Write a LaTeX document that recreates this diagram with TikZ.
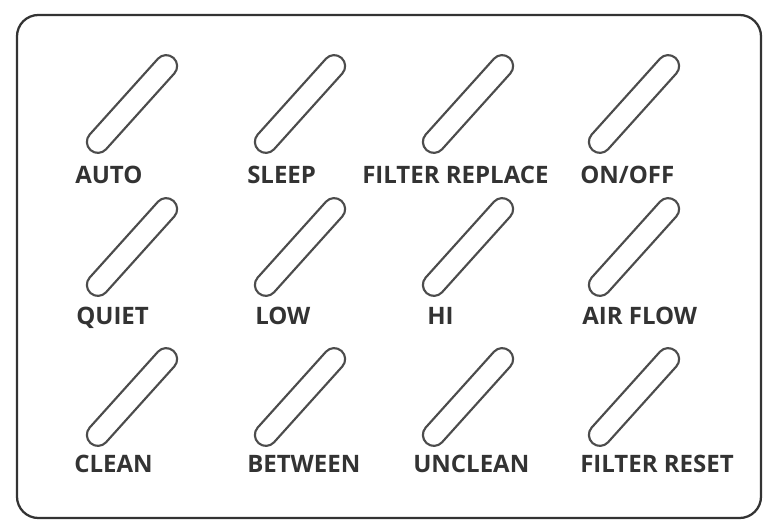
\documentclass[tikz,border=0pt]{standalone}
\usepackage{fontspec}
\setmainfont{Open Sans}
\usepackage{tikz}
\usetikzlibrary{shapes.misc, positioning}
\tikzstyle{panel}=[draw=black!80, line width=1.7pt, rounded corners=16pt]

\begin{document}
\begin{tikzpicture}[x=0.75pt, y=0.75pt,
  btn/.style={rounded rectangle, draw=black!70, line width=1.6pt,
              minimum width=93pt, minimum height=16.5pt,
              inner sep=0pt, rotate=48},
  lbl/.style={anchor=base west, inner sep=0pt, text=black!80,
              font=\bfseries\fontsize{18}{18}\selectfont}
]
\useasboundingbox (0,0) rectangle (766,522);
\draw[panel] (17,4) rectangle (761,507);

% top row
\node[btn] (auto)  at (132,418) {};
\node[btn] (sleep) at (300,418) {};
\node[btn] (frep)  at (468,418) {};
\node[btn] (onoff) at (634,418) {};
\node[lbl] (lauto)  at (75,339)  {AUTO};
\node[lbl] (lsleep) at (247,339) {SLEEP};
\node[lbl] (lfrep)  at (362,339) {FILTER REPLACE};
\node[lbl] (lonoff) at (580,339) {ON/OFF};

% middle row
\node[btn] (quiet)   at (132,275) {};
\node[btn] (low)     at (300,275) {};
\node[btn] (hi)      at (468,275) {};
\node[btn] (airflow) at (634,275) {};
\node[lbl] (lquiet)   at (76,198)  {QUIET};
\node[lbl] (llow)     at (255,198) {LOW};
\node[lbl] (lhi)      at (427,198) {HI};
\node[lbl] (lairflow) at (582,198) {AIR FLOW};

% bottom row
\node[btn] (clean)   at (132,125) {};
\node[btn] (between) at (300,125) {};
\node[btn] (unclean) at (468,125) {};
\node[btn] (freset)  at (634,125) {};
\node[lbl] (lclean)   at (74,50)  {CLEAN};
\node[lbl] (lbetween) at (247,50) {BETWEEN};
\node[lbl] (lunclean) at (413,50) {UNCLEAN};
\node[lbl] (lfreset)  at (580,50) {FILTER RESET};
\end{tikzpicture}
\end{document}
